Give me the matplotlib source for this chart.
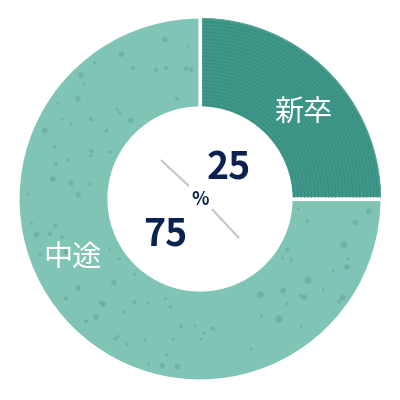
import numpy as np
from matplotlib import pyplot as plt
from matplotlib.patches import Wedge

labels = ["新卒", "中途"]
values = [25, 75]
colors = ["#3f978a", "#80c4b6"]
ring_color = "#37897d"
dot_color = "#6db3a5"
navy = "#0b2250"

plt.rcParams['font.family'] = ['Noto Sans CJK JP', 'DejaVu Sans']

fig = plt.figure(figsize=(4, 4), dpi=100)
ax = fig.add_axes([0, 0, 1, 1])
R = 182.0

inner = 0.5
wedges, _ = ax.pie(values, colors=colors, startangle=90, counterclock=False,
                   radius=1, wedgeprops=dict(width=1 - inner, edgecolor="white", linewidth=2.3))

# concentric ring texture on the first wedge
w0 = wedges[0]
for r in np.arange(inner + 0.02, 1.0, 0.019):
    arc = Wedge((0, 0), r, w0.theta1, w0.theta2, width=0.004,
                facecolor=ring_color, edgecolor="none", zorder=2)
    ax.add_patch(arc)
# redraw separator lines over rings
for ang in (w0.theta1, w0.theta2):
    a = np.deg2rad(ang)
    ax.plot([inner * np.cos(a), np.cos(a)], [inner * np.sin(a), np.sin(a)],
            color="white", lw=2.3, zorder=3, solid_capstyle="butt")

# speckle texture on the second wedge (decoration only)
w1 = wedges[1]
rng = np.random.default_rng(7)
n = 95
th = np.deg2rad(rng.uniform(w1.theta1 + 3, w1.theta2 - 3, n))
rr = np.sqrt(rng.uniform((inner + 0.04) ** 2, 0.96 ** 2, n))
sz = rng.choice([5, 9, 16, 28], n, p=[0.4, 0.3, 0.2, 0.1])
ax.scatter(rr * np.cos(th), rr * np.sin(th), s=sz, color=dot_color,
           edgecolors="none", zorder=2)

# label text
ax.text(0.57, 0.47, labels[0], color="white", fontsize=21, ha="center", va="center", zorder=4)
ax.text(-0.70, -0.33, labels[1], color="white", fontsize=21, ha="center", va="center", zorder=4)

# centre
ax.plot([-0.21, -0.065], [0.21, 0.075], color="#c8c8c8", lw=1.6, zorder=4)
ax.plot([0.07, 0.21], [-0.06, -0.21], color="#c8c8c8", lw=1.6, zorder=4)
ax.text(0.16, 0.17, str(values[0]), color=navy, fontsize=27, fontweight="bold",
        ha="center", va="center", zorder=4)
ax.text(-0.19, -0.19, str(values[1]), color=navy, fontsize=27, fontweight="bold",
        ha="center", va="center", zorder=4)
ax.text(0.0, 0.0, "%", color=navy, fontsize=13, fontweight="bold",
        ha="center", va="center", zorder=4)

ax.set_xlim(-200 / R, 200 / R)
ax.set_ylim(-201 / R, 199 / R)
ax.set_aspect("equal")
ax.axis("off")

fig.savefig("out.png", dpi=100, facecolor="white")
